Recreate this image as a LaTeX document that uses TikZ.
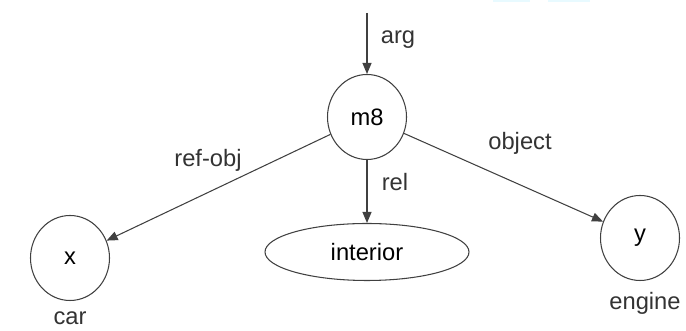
\documentclass[tikz,border=0pt]{standalone}
\usepackage{fontspec}
\setmainfont{Liberation Sans}
\usetikzlibrary{arrows.meta,positioning,shapes.geometric}

\begin{document}
\begin{tikzpicture}[
  concept/.style={draw=black!75, line width=0.6pt, ellipse, inner sep=0pt, minimum width=1.58cm, minimum height=1.7cm},
  role/.style={draw=black!75, line width=0.6pt, -{Triangle[length=2.2mm, width=1.8mm]}},
  tag/.style={text=black!80, inner sep=1pt},
  every node/.style={font=\fontsize{13.5}{16}\selectfont}
]
\useasboundingbox (0,0) rectangle (13.72,6.62); %whole frame
\fill[blue!20!cyan!9] (9.86,6.57) rectangle (10.6,6.62); %blue strips at top
\fill[blue!20!cyan!9] (10.96,6.57) rectangle (11.8,6.62);

\node[concept] (m8) at (7.34,4.28) {m8}; %middle node
\node[concept] (x) at (1.4,1.46) {x}; %left node
\node[concept] (y) at (12.8,1.86) {y}; %right node
\node[concept, minimum width=4.08cm, minimum height=1.14cm] (interior) at (7.34,1.58) {interior}; %bottom ellipse
\coordinate (top) at (7.34,6.36); %free end of arg

\node[tag] (car) at (1.4,0.25) {car};
\node[tag] (engine) at (12.9,0.56) {engine};
\node[tag] (arg) at (7.96,5.82) {arg};
\node[tag] (refobj) at (4.16,3.42) {ref-obj};
\node[tag] (rel) at (7.9,2.98) {rel};
\node[tag] (object) at (10.4,3.76) {object};

\draw[role] (top) -- (m8); %arg
\draw[role] (m8) -- (x); %ref-obj
\draw[role] (m8) -- (interior); %rel
\draw[role] (m8) -- (y); %object

\end{tikzpicture}
\end{document}
